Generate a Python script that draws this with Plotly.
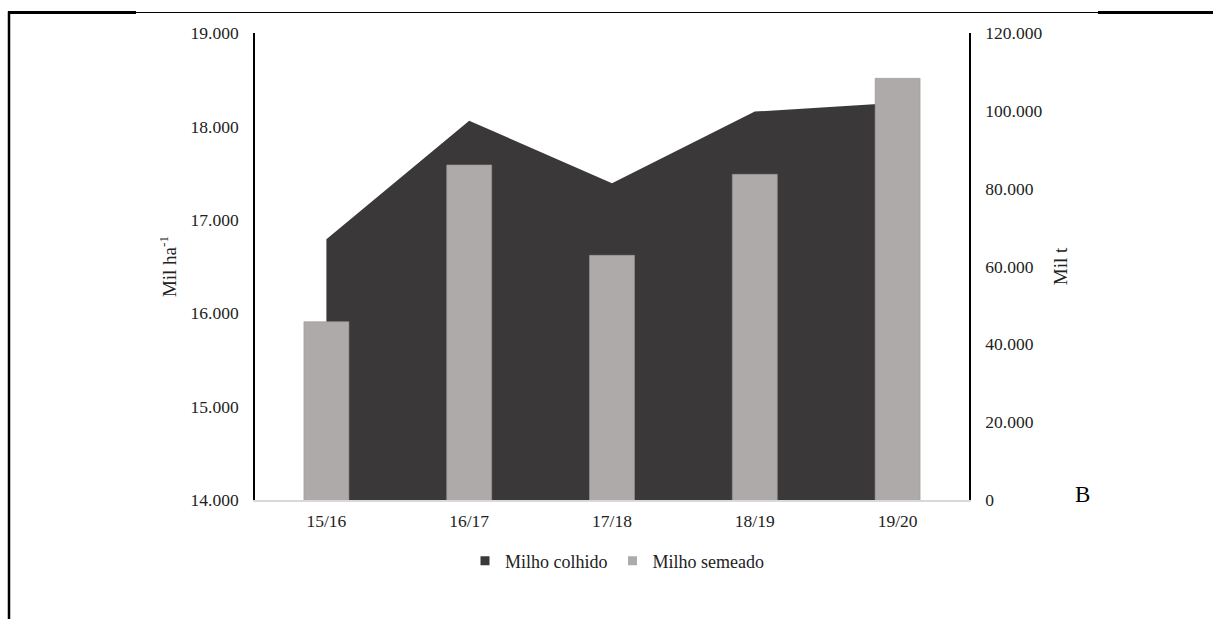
import plotly.graph_objects as go

# Safras (crop seasons)
safras = ["15/16", "16/17", "17/18", "18/19", "19/20"]
# Área semeada de milho, mil ha
milho_semeado = [15909, 17587, 16620, 17487, 18515]
# Produção de milho colhido, mil t
milho_colhido = [67000, 97460, 81400, 99800, 102100]

DARK = "#3a3838"
GRAY = "#aeaaaa"
FONT = "Liberation Serif, Times New Roman, serif"

W, H = 1213, 619
L, R, T, B = 255, 244, 33, 119
PW, PH = W - L - R, H - T - B


def px(x):
    return (x - L) / PW


def py(y):
    return (H - B - y) / PH


fig = go.Figure()

# Produção (área preenchida) no eixo da direita
fig.add_trace(go.Scatter(
    x=safras, y=milho_colhido, yaxis="y",
    mode="lines", line=dict(width=0, color=DARK),
    fill="tozeroy", fillcolor=DARK,
    showlegend=False, hoverinfo="x+y",
))

# Área semeada (barras) no eixo da esquerda
fig.add_trace(go.Bar(
    x=safras, y=milho_semeado, yaxis="y2",
    marker=dict(color=GRAY, line=dict(color="#9c9898", width=0.6)),
    showlegend=False,
))

# Entradas da legenda
fig.add_trace(go.Scatter(
    x=[None], y=[None], mode="markers", name="Milho colhido",
    marker=dict(symbol="square", size=9, color=DARK),
))
fig.add_trace(go.Scatter(
    x=[None], y=[None], mode="markers", name="Milho semeado",
    marker=dict(symbol="square", size=9, color=GRAY),
))

fig.update_layout(
    width=W, height=H,
    margin=dict(l=L, r=R, t=T, b=B, autoexpand=False),
    paper_bgcolor="white", plot_bgcolor="white",
    separators=",.",
    font=dict(family=FONT, size=17, color="#222222"),
    bargap=0.685,
    xaxis=dict(
        type="category", range=[-0.5, 4.5],
        showgrid=False, zeroline=False,
        showline=True, linecolor="#d9d9d9", linewidth=1.5,
        ticks="", ticklabelstandoff=4,
        tickfont=dict(family=FONT, size=17.5),
    ),
    yaxis=dict(
        side="right", range=[0, 120000], dtick=20000,
        tickformat=",d", showgrid=False, zeroline=False,
        showline=True, linecolor="black", linewidth=1.6,
        ticks="", ticklabelstandoff=11,
        tickfont=dict(family=FONT, size=17.5),
        title=dict(text="Mil t", font=dict(family=FONT, size=19), standoff=12),
    ),
    yaxis2=dict(
        side="left", overlaying="y", range=[14000, 19000], dtick=1000,
        tickformat=",d", showgrid=False, zeroline=False,
        showline=True, linecolor="black", linewidth=1.6,
        ticks="", ticklabelstandoff=11,
        tickfont=dict(family=FONT, size=17.5),
        title=dict(text="Mil ha<sup>-1</sup>", font=dict(family=FONT, size=19), standoff=9),
    ),
    legend=dict(
        orientation="h", x=0.507, xanchor="center",
        y=py(561), yanchor="middle",
        font=dict(family=FONT, size=18, color="#222222"),
        itemwidth=30, tracegroupgap=0,
        bgcolor="rgba(0,0,0,0)",
    ),
    annotations=[dict(
        text="B", xref="paper", yref="paper",
        x=px(1082), y=py(494), xanchor="center", yanchor="middle",
        showarrow=False, font=dict(family=FONT, size=23, color="black"),
    )],
    shapes=[
        dict(type="line", xref="paper", yref="paper",
             x0=px(8), x1=px(136), y0=py(12.5), y1=py(12.5),
             line=dict(color="black", width=3)),
        dict(type="line", xref="paper", yref="paper",
             x0=px(136), x1=px(1098), y0=py(12.5), y1=py(12.5),
             line=dict(color="black", width=1)),
        dict(type="line", xref="paper", yref="paper",
             x0=px(1098), x1=px(1213), y0=py(12.5), y1=py(12.5),
             line=dict(color="black", width=3)),
        dict(type="line", xref="paper", yref="paper",
             x0=px(9), x1=px(9), y0=py(11.5), y1=py(619),
             line=dict(color="black", width=2.5)),
    ],
)

fig.write_html("out.html")
